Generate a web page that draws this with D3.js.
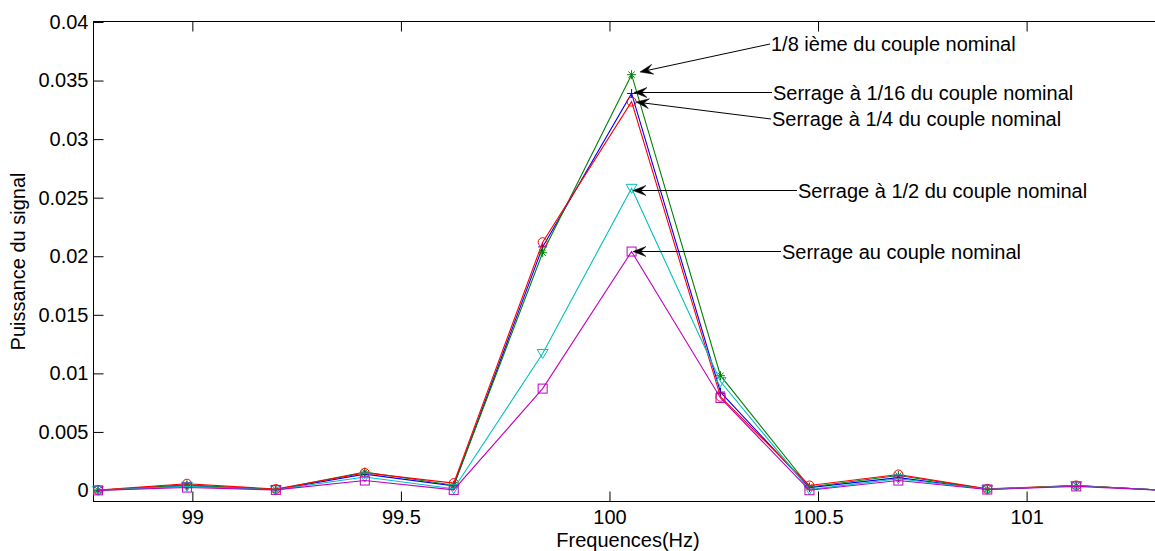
<!DOCTYPE html>
<html>
<head>
<meta charset="utf-8">
<script src="https://cdn.jsdelivr.net/npm/d3@7"></script>
<style>
  html, body { margin: 0; padding: 0; background: #fff; }
  svg { display: block; overflow: hidden; }
  text { font-family: "Liberation Sans", Arial, Helvetica, sans-serif; fill: #000; }
</style>
</head>
<body>
<svg id="chart" width="1155" height="551"></svg>
<script>
// ---- data ----
const freqs = [98.7738, 98.9870, 99.2002, 99.4134, 99.6266, 99.8398, 100.0530, 100.2662, 100.4794, 100.6926, 100.9058, 101.1190, 101.3322];
const serrage116 = [0.00002, 0.00040, 0.00007, 0.00140, 0.00040, 0.0208, 0.0339, 0.0084, 0.00025, 0.00110, 0.00010, 0.00040, 0.00002];
const serrage18  = [0.00002, 0.00048, 0.00008, 0.00158, 0.00045, 0.0203, 0.0355, 0.0098, 0.00030, 0.00128, 0.00012, 0.00042, 0.00002];
const serrage14  = [0.00003, 0.00058, 0.00012, 0.00150, 0.00063, 0.0212, 0.0332, 0.0080, 0.00043, 0.00137, 0.00014, 0.00043, 0.00002];
const serrage12  = [0.00001, 0.00035, 0.00006, 0.00115, 0.00015, 0.0117, 0.0258, 0.0093, 0.00008, 0.00100, 0.00010, 0.00040, 0.00001];
const serrageNom = [0.00001, 0.00025, 0.00005, 0.00085, 0.00005, 0.0087, 0.0204, 0.0079, 0.00002, 0.00085, 0.00008, 0.00035, 0.00001];

const yTicks = [0, 0.005, 0.01, 0.015, 0.02, 0.025, 0.03, 0.035, 0.04];
const yTickLabels = ["0", "0.005", "0.01", "0.015", "0.02", "0.025", "0.03", "0.035", "0.04"];
const xTicks = [99, 99.5, 100, 100.5, 101];
const xTickLabels = ["99", "99.5", "100", "100.5", "101"];

const seriesNames = ["Serrage à 1/16 du couple nominal", "1/8 ième du couple nominal", "Serrage à 1/4 du couple nominal", "Serrage à 1/2 du couple nominal", "Serrage au couple nominal"];
const seriesValues = [serrage116, serrage18, serrage14, serrage12, serrageNom];
const seriesColors = ["#0000ff", "#008000", "#ff0000", "#00bfbf", "#bf00bf"];
const seriesMarkers = ["plus", "star", "circle", "triangleDown", "square"];

const xLabel = "Frequences(Hz)";
const yLabel = "Puissance du signal";

// ---- layout ----
const svg = d3.select("#chart");
const L = 93.5, T = 21.5, B = 501.5, R = 1170.5;
const x = d3.scaleLinear().domain([98.763, 101.345]).range([L, R]);
const y = d3.scaleLinear().domain([-0.00094, 0.04]).range([B, T + 0.5]);
const tickLen = 10;

// axes box
svg.append("rect").attr("x", L).attr("y", T).attr("width", R - L).attr("height", B - T)
  .attr("fill", "none").attr("stroke", "#000").attr("stroke-width", 1);

// bottom axis (ticks inward) + mirrored top ticks
const xAxisB = d3.axisBottom(x).tickValues(xTicks).tickSize(-tickLen).tickPadding(8)
  .tickFormat((d, i) => xTickLabels[i]);
const gx = svg.append("g").attr("transform", `translate(0,${B})`).call(xAxisB);
gx.select(".domain").remove();
gx.selectAll("text").style("font-size", "20px").attr("font-family", null);
gx.selectAll("line").attr("stroke", "#000");

const xAxisT = d3.axisTop(x).tickValues(xTicks).tickSize(-tickLen).tickFormat("");
const gxt = svg.append("g").attr("transform", `translate(0,${T})`).call(xAxisT);
gxt.select(".domain").remove();
gxt.selectAll("line").attr("stroke", "#000");

// left axis
const yAxisL = d3.axisLeft(y).tickValues(yTicks).tickSize(-tickLen).tickPadding(5)
  .tickFormat((d, i) => yTickLabels[i]);
const gy = svg.append("g").attr("transform", `translate(${L},0)`).call(yAxisL);
gy.select(".domain").remove();
gy.selectAll("text").style("font-size", "20px").attr("font-family", null);
gy.selectAll("line").attr("stroke", "#000");

// axis titles
svg.append("text").attr("x", (L + R) / 2 - 4).attr("y", 546.5).attr("text-anchor", "middle")
  .style("font-size", "20px").text(xLabel);
svg.append("text").attr("transform", `translate(25,${(T + B) / 2}) rotate(-90)`)
  .attr("text-anchor", "middle").style("font-size", "20px").text(yLabel);

// ---- series ----
svg.append("defs").append("clipPath").attr("id", "plotclip")
  .append("rect").attr("x", L - 10).attr("y", T - 10).attr("width", R - L + 20).attr("height", B - T + 20);

const line = d3.line().x((d, i) => x(freqs[i])).y(d => y(d));

function drawMarker(g, type, cx, cy, color) {
  if (type === "circle") {
    g.append("circle").attr("cx", cx).attr("cy", cy).attr("r", 4.5)
      .attr("fill", "none").attr("stroke", color).attr("stroke-width", 1);
  } else if (type === "plus") {
    g.append("path").attr("d", `M${cx - 4.5},${cy}H${cx + 4.5}M${cx},${cy - 4.5}V${cy + 4.5}`)
      .attr("stroke", color).attr("stroke-width", 1).attr("fill", "none");
  } else if (type === "star") {
    const s = 4.5, d = 3.2;
    g.append("path").attr("d",
      `M${cx - s},${cy}H${cx + s}M${cx},${cy - s}V${cy + s}` +
      `M${cx - d},${cy - d}L${cx + d},${cy + d}M${cx - d},${cy + d}L${cx + d},${cy - d}`)
      .attr("stroke", color).attr("stroke-width", 1).attr("fill", "none");
  } else if (type === "triangleDown") {
    g.append("path").attr("d", `M${cx - 5.5},${cy - 4}L${cx + 5.5},${cy - 4}L${cx},${cy + 5}Z`)
      .attr("stroke", color).attr("stroke-width", 1).attr("fill", "none");
  } else if (type === "square") {
    g.append("rect").attr("x", cx - 4.5).attr("y", cy - 4.5).attr("width", 9).attr("height", 9)
      .attr("stroke", color).attr("stroke-width", 1).attr("fill", "none");
  }
}

seriesValues.forEach((vals, s) => {
  const g = svg.append("g").attr("clip-path", "url(#plotclip)");
  g.append("path").datum(vals).attr("d", line).attr("fill", "none")
    .attr("stroke", seriesColors[s]).attr("stroke-width", 1.1);
  vals.forEach((v, i) => drawMarker(g, seriesMarkers[s], x(freqs[i]), y(v), seriesColors[s]));
});

// ---- annotations (text arrows) ----
const annotations = [
  { text: seriesNames[1], tx: 771, ty: 44, sx: 770, sy: 44, ex: 640, ey: 72 },
  { text: seriesNames[0], tx: 773, ty: 92.5, sx: 772, sy: 92.5, ex: 634, ey: 92.5 },
  { text: seriesNames[2], tx: 772, ty: 119, sx: 771, sy: 119, ex: 636, ey: 102 },
  { text: seriesNames[3], tx: 798, ty: 190.5, sx: 797, sy: 190.5, ex: 633, ey: 190.5 },
  { text: seriesNames[4], tx: 782, ty: 251.5, sx: 781, sy: 251.5, ex: 633, ey: 251.5 }
];
const ag = svg.append("g");
annotations.forEach(a => {
  const ang = Math.atan2(a.ey - a.sy, a.ex - a.sx);
  const Lh = 13, Wh = 10;
  const c = Math.cos(ang), s = Math.sin(ang);
  const pt = (u, v) => [a.ex + u * c - v * s, a.ey + u * s + v * c];
  const back = pt(-Lh * 0.6, 0);
  ag.append("line").attr("x1", a.sx).attr("y1", a.sy).attr("x2", back[0]).attr("y2", back[1])
    .attr("stroke", "#000").attr("stroke-width", 1);
  const p1 = pt(-Lh, -Wh / 2), p2 = pt(-Lh, Wh / 2);
  ag.append("path").attr("d", `M${a.ex},${a.ey}L${p1[0]},${p1[1]}L${back[0]},${back[1]}L${p2[0]},${p2[1]}Z`)
    .attr("fill", "#000").attr("stroke", "#000").attr("stroke-width", 0.5);
  ag.append("text").attr("x", a.tx).attr("y", a.ty).attr("dy", "0.35em")
    .style("font-size", "20px").text(a.text);
});
</script>
</body>
</html>
